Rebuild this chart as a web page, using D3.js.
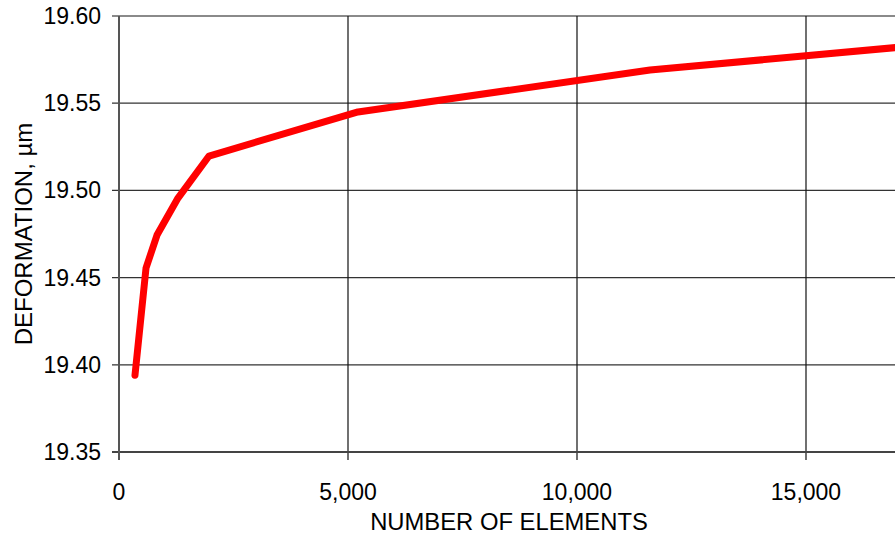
<!DOCTYPE html>
<html>
<head>
<meta charset="utf-8">
<script src="https://cdn.jsdelivr.net/npm/d3@7"></script>
<style>
  html, body { margin: 0; padding: 0; background: #fff; }
  svg { display: block; }
  text { font-family: "Liberation Sans", Arial, sans-serif; fill: #000; }
</style>
</head>
<body>
<svg id="chart" width="895" height="537"></svg>
<script>
// Data
const elements = [349, 590, 830, 1288, 1965, 5218, 11594, 17000];
const deformation = [19.394, 19.4555, 19.4744, 19.4956, 19.5197, 19.545, 19.569, 19.582];
const xTicks = [0, 5000, 10000, 15000];
const yTicks = [19.35, 19.40, 19.45, 19.50, 19.55, 19.60];
const xTitle = "NUMBER OF ELEMENTS";
const yTitle = "DEFORMATION, \u00B5m";

(function () {
const svg = d3.select("#chart");
const mLeft = 119, mTop = 16, mBottom = 452;
const x = d3.scaleLinear().domain([0, 20000]).range([mLeft, mLeft + 229 * 4]);
const y = d3.scaleLinear().domain([19.35, 19.60]).range([mBottom, mTop]);
const W = 895;

// horizontal gridlines
svg.append("g").selectAll("line")
  .data(yTicks.filter(v => v > 19.351 && v < 19.599))
  .join("line")
  .attr("x1", mLeft - 7).attr("x2", W)
  .attr("y1", d => y(d)).attr("y2", d => y(d))
  .attr("stroke", "#333").attr("stroke-width", 1.3);

// top border
svg.append("line").attr("x1", mLeft - 7).attr("x2", W)
  .attr("y1", y(19.60)).attr("y2", y(19.60))
  .attr("stroke", "#8a8a8a").attr("stroke-width", 2);

// vertical gridlines
svg.append("g").selectAll("line")
  .data(xTicks.filter(v => v > 0))
  .join("line")
  .attr("x1", d => x(d)).attr("x2", d => x(d))
  .attr("y1", mTop).attr("y2", mBottom + 8)
  .attr("stroke", "#111").attr("stroke-width", 1.2);

// bottom axis line
svg.append("line").attr("x1", mLeft - 7).attr("x2", W)
  .attr("y1", mBottom).attr("y2", mBottom)
  .attr("stroke", "#444").attr("stroke-width", 2);

// left axis line
svg.append("line").attr("x1", mLeft).attr("x2", mLeft)
  .attr("y1", mTop).attr("y2", mBottom + 8)
  .attr("stroke", "#555").attr("stroke-width", 2);

// y tick labels
svg.append("g").selectAll("text")
  .data(yTicks).join("text")
  .attr("x", 101).attr("y", d => y(d))
  .attr("dy", "0.35em")
  .attr("text-anchor", "end")
  .style("font-size", "23px")
  .text(d => d3.format(".2f")(d));

// x tick labels
svg.append("g").selectAll("text")
  .data(xTicks).join("text")
  .attr("x", d => x(d)).attr("y", 500)
  .attr("text-anchor", "middle")
  .style("font-size", "23px")
  .text(d => d3.format(",")(d));

// axis titles
svg.append("text")
  .attr("x", 509).attr("y", 530)
  .attr("text-anchor", "middle")
  .style("font-size", "23.8px")
  .text(xTitle);

svg.append("text")
  .attr("transform", "translate(32,234) rotate(-90)")
  .attr("text-anchor", "middle")
  .style("font-size", "24px")
  .text(yTitle);

// the data line
const pts = elements.map((e, i) => [e, deformation[i]]);
svg.append("path")
  .datum(pts)
  .attr("fill", "none")
  .attr("stroke", "#ff0000")
  .attr("stroke-width", 7)
  .attr("stroke-linecap", "round")
  .attr("stroke-linejoin", "round")
  .attr("d", d3.line().x(d => x(d[0])).y(d => y(d[1])));
})();
</script>
</body>
</html>
